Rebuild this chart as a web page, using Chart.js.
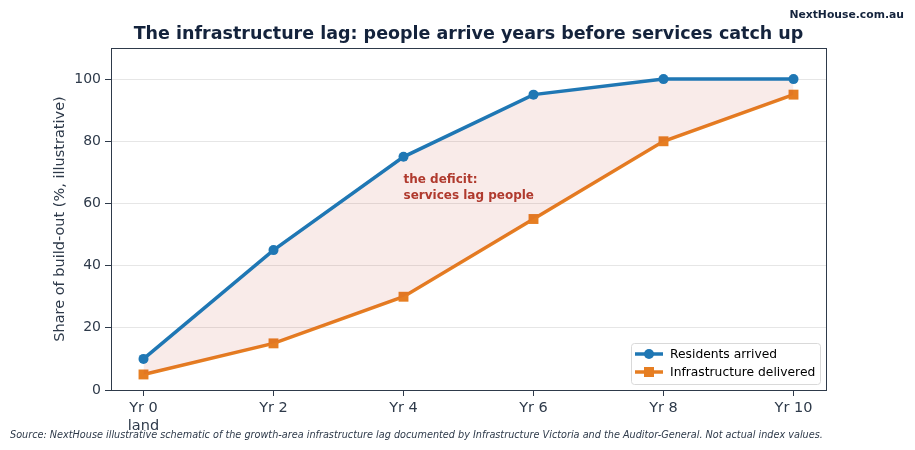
<!DOCTYPE html>
<html>
<head>
<meta charset="utf-8">
<script src="https://cdn.jsdelivr.net/npm/chart.js@4.4.0/dist/chart.umd.min.js"></script>
<style>
  html, body { margin: 0; padding: 0; background: #fff; }
  #wrap { width: 915px; height: 450px; position: relative; }
</style>
</head>
<body>
<div id="wrap"><canvas id="grafico"></canvas></div>
<script>
// datos
const categorias = ['Yr 0\nland', 'Yr 2', 'Yr 4', 'Yr 6', 'Yr 8', 'Yr 10'];
const residentes = [10, 45, 75, 95, 100, 100];
const infraestructura = [5, 15, 30, 55, 80, 95];
const ticksY = [0, 20, 40, 60, 80, 100];

const AZUL = '#1f77b4';
const NARANJA = '#e67e22';
const TEXTO = '#2e3a4a';
const FUENTE = "'DejaVu Sans', sans-serif";

// textos extra, marco y leyenda
const extras = {
  id: 'extras',
  afterDraw(chart) {
    const c = chart.ctx;
    const a = chart.chartArea;
    const x = chart.scales.x, y = chart.scales.y;
    c.save();
    // marco
    c.strokeStyle = TEXTO;
    c.lineWidth = 1;
    c.strokeRect(a.left + 0.5, a.top + 0.5, a.right - a.left, a.bottom - a.top);

    // titulo
    c.fillStyle = '#14233c';
    c.font = 'bold 17.5px ' + FUENTE;
    c.textAlign = 'center';
    c.textBaseline = 'middle';
    c.fillText('The infrastructure lag: people arrive years before services catch up', (a.left + a.right) / 2, 34);

    c.font = 'bold 10.8px ' + FUENTE;
    c.textAlign = 'right';
    c.fillText('NextHouse.com.au', 904, 15);

    // fuente
    c.fillStyle = TEXTO;
    c.font = 'italic 9.7px ' + FUENTE;
    c.textAlign = 'left';
    c.fillText('Source: NextHouse illustrative schematic of the growth-area infrastructure lag documented by Infrastructure Victoria and the Auditor-General. Not actual index values.', 10, 435);

    // anotacion
    c.fillStyle = '#b03a2e';
    c.font = 'bold 12px ' + FUENTE;
    c.fillText('the deficit:', x.getPixelForValue(2), y.getPixelForValue(67.5));
    c.fillText('services lag people', x.getPixelForValue(2), y.getPixelForValue(62.5));

    // leyenda
    const lx = 631, ly = 343, lw = 189, lh = 41;
    c.fillStyle = 'rgba(255,255,255,0.85)';
    c.strokeStyle = '#d9d9d9';
    c.lineWidth = 1;
    c.beginPath();
    c.roundRect(lx + 0.5, ly + 0.5, lw, lh, 3);
    c.fill();
    c.stroke();
    const items = [
      { t: 'Residents arrived', col: AZUL, m: 'circle' },
      { t: 'Infrastructure delivered', col: NARANJA, m: 'rect' }
    ];
    items.forEach((it, i) => {
      const yy = ly + 11 + i * 18;
      c.strokeStyle = it.col;
      c.lineWidth = 3.5;
      c.beginPath();
      c.moveTo(lx + 4, yy);
      c.lineTo(lx + 32, yy);
      c.stroke();
      c.fillStyle = it.col;
      if (it.m === 'circle') {
        c.beginPath();
        c.arc(lx + 18, yy, 5, 0, Math.PI * 2);
        c.fill();
      } else {
        c.fillRect(lx + 13, yy - 5, 10, 10);
      }
      c.fillStyle = '#000';
      c.font = '12.3px ' + FUENTE;
      c.textBaseline = 'middle';
      c.fillText(it.t, lx + 39, yy + 1);
    });
    c.restore();
  }
};

const ctx = document.getElementById('grafico').getContext('2d');
new Chart(ctx, {
  type: 'line',
  data: {
    datasets: [{
      label: 'Residents arrived',
      data: residentes.map((v, i) => ({ x: i, y: v })),
      borderColor: AZUL,
      backgroundColor: 'rgba(192,57,43,0.1)',
      pointBackgroundColor: AZUL,
      pointBorderWidth: 0,
      borderWidth: 3.5,
      pointRadius: 5,
      pointStyle: 'circle',
      fill: '+1',
      tension: 0
    }, {
      label: 'Infrastructure delivered',
      data: infraestructura.map((v, i) => ({ x: i, y: v })),
      borderColor: NARANJA,
      backgroundColor: NARANJA,
      pointBackgroundColor: NARANJA,
      pointBorderWidth: 0,
      borderWidth: 3.5,
      pointRadius: 7,
      pointStyle: 'rect',
      fill: false,
      tension: 0
    }]
  },
  options: {
    responsive: true,
    maintainAspectRatio: false,
    animation: false,
    layout: { padding: { left: 48, top: 48, right: 89, bottom: 18 } },
    plugins: {
      legend: { display: false },
      tooltip: { enabled: false }
    },
    scales: {
      x: {
        type: 'linear',
        min: -0.25,
        max: 5.25,
        afterBuildTicks: s => { s.ticks = categorias.map((_, i) => ({ value: i })); },
        afterFit: s => { s.height = 42; },
        ticks: {
          color: TEXTO,
          font: { family: FUENTE, size: 14.5 },
          padding: 4,
          maxRotation: 0,
          callback: v => categorias[v] ? categorias[v].split('\n') : ''
        },
        grid: { drawOnChartArea: false, tickLength: 6, color: TEXTO },
        border: { color: TEXTO }
      },
      y: {
        min: 0,
        max: 110,
        afterBuildTicks: s => { s.ticks = ticksY.map(v => ({ value: v })); },
        afterFit: s => { s.width = 63; },
        title: {
          display: true,
          text: 'Share of build-out (%, illustrative)',
          color: TEXTO,
          font: { family: FUENTE, size: 14.5 },
          padding: { top: 4, bottom: 0 }
        },
        ticks: {
          color: TEXTO,
          font: { family: FUENTE, size: 14 },
          padding: 4
        },
        grid: { color: '#e6e6e6', tickColor: TEXTO, tickLength: 6 },
        border: { color: TEXTO }
      }
    }
  },
  plugins: [extras]
});
</script>
</body>
</html>
